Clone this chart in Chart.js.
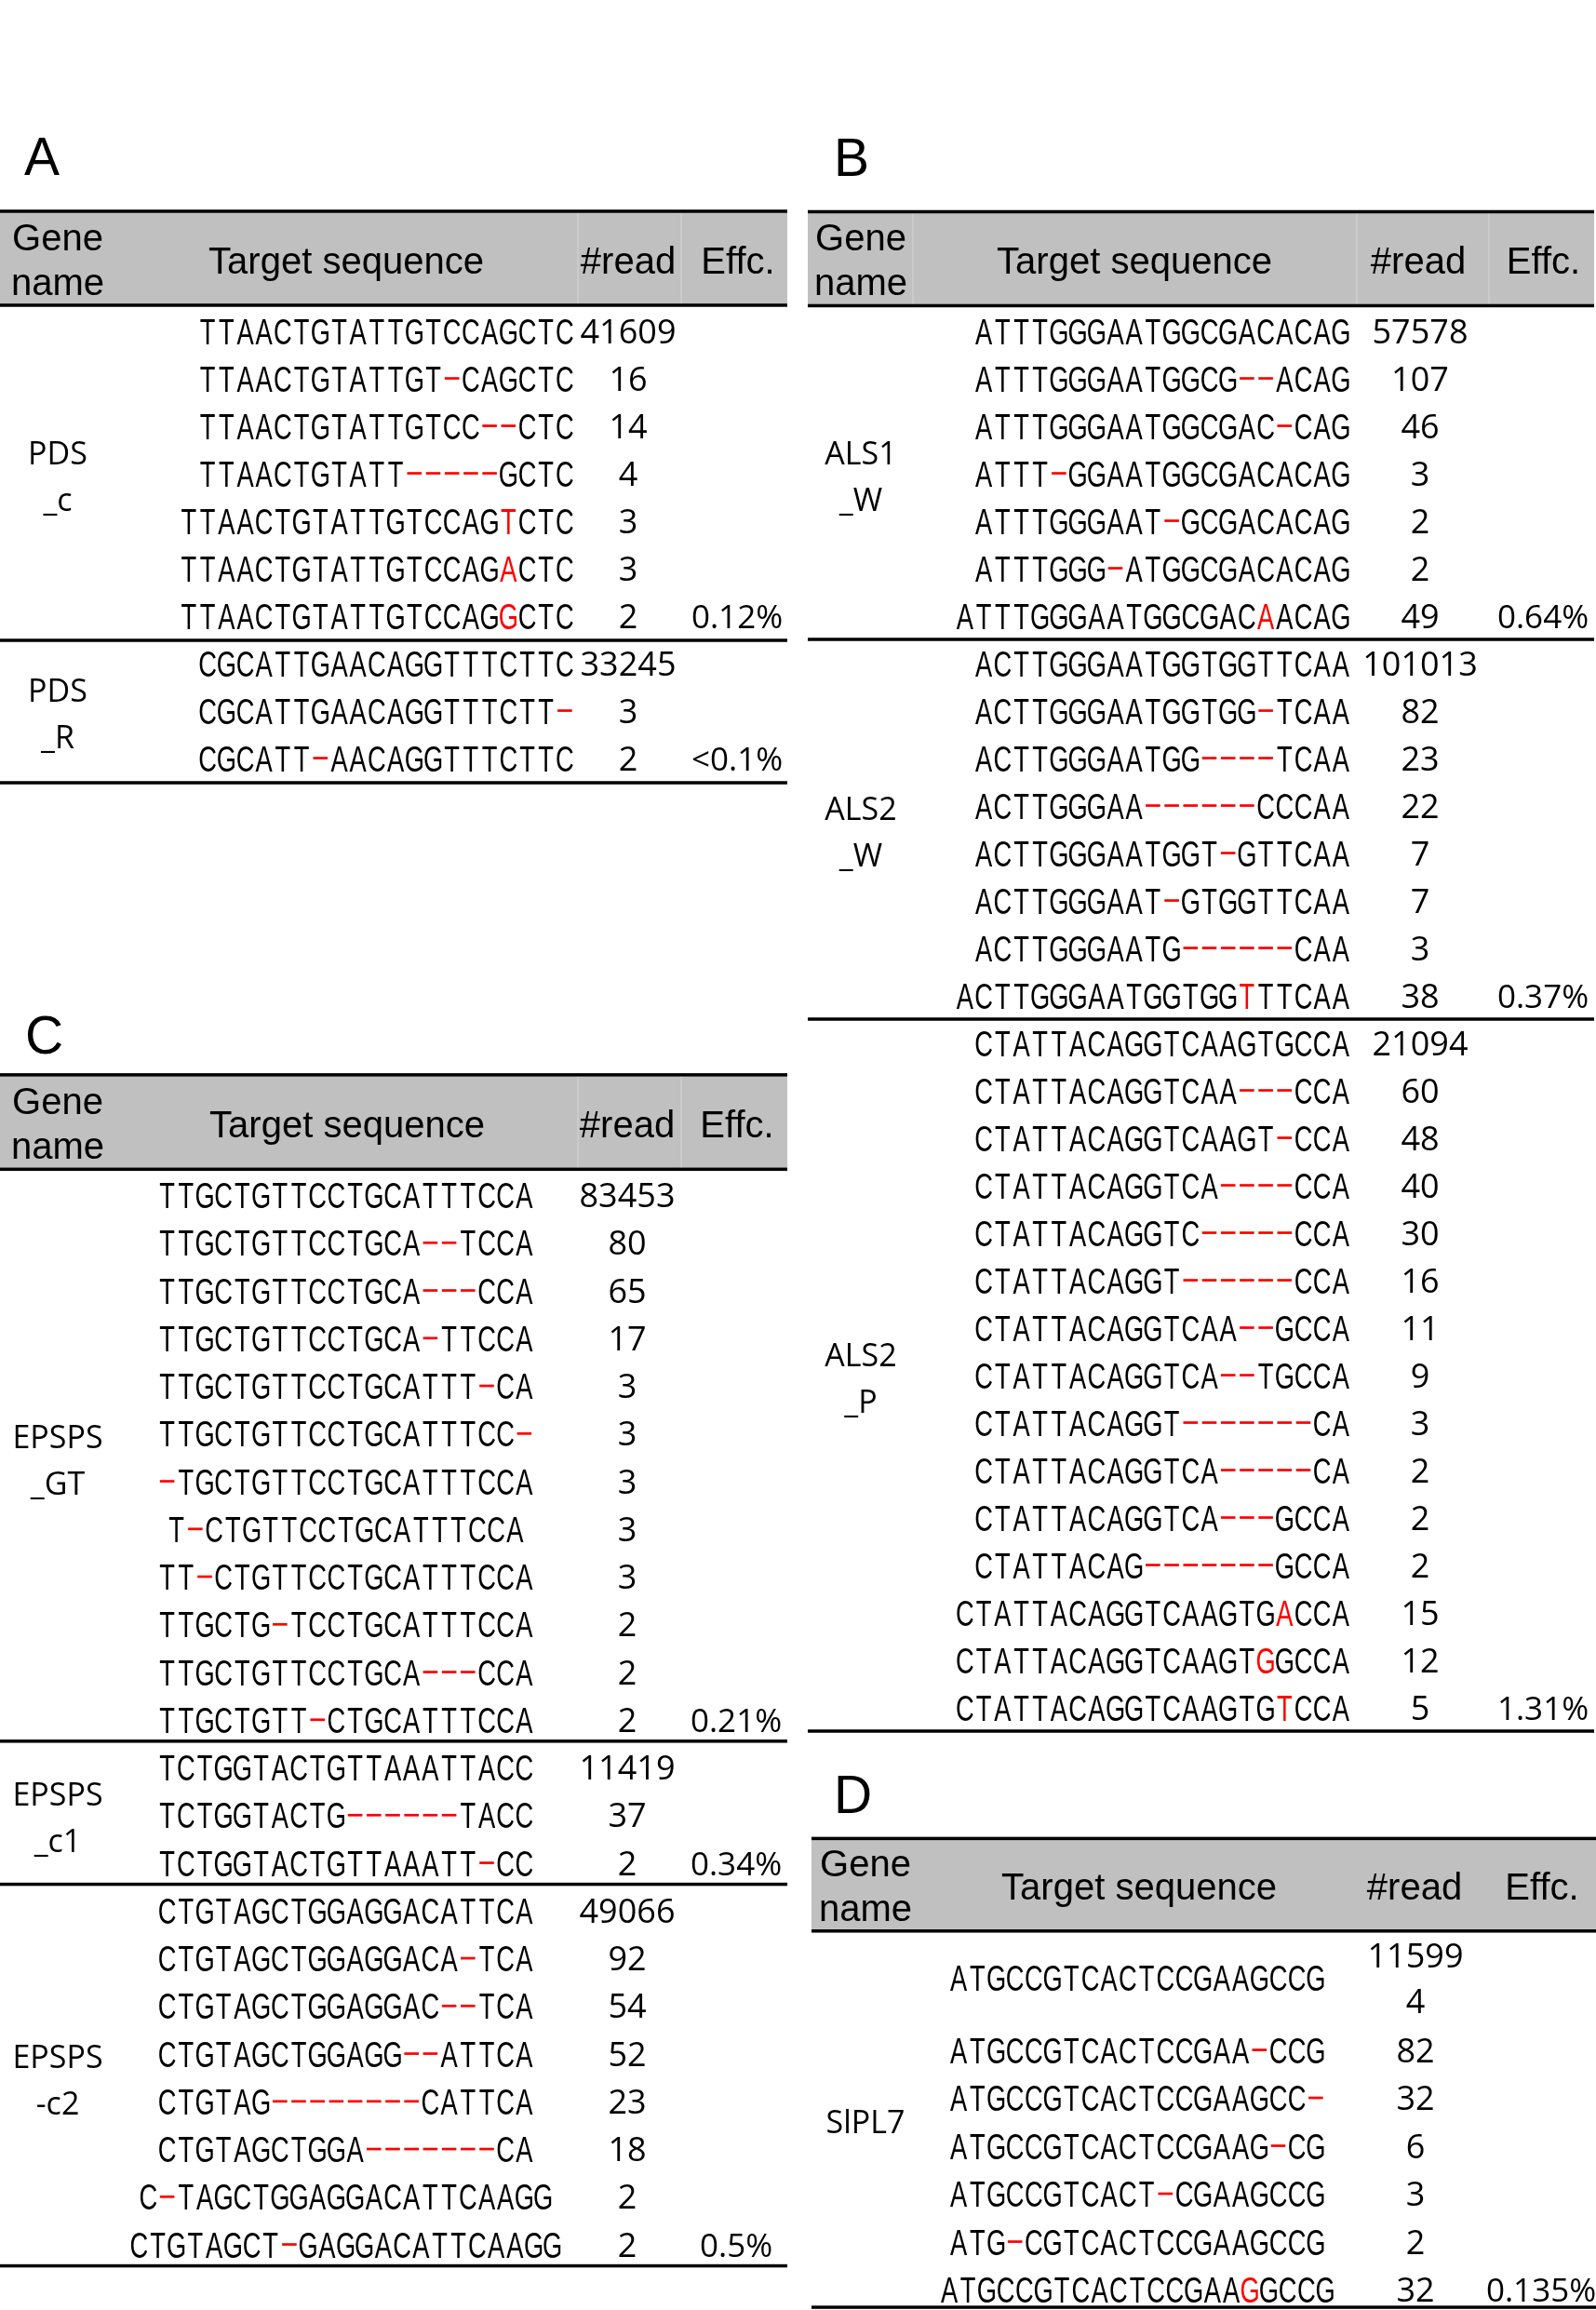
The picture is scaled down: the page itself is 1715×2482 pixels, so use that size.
<!DOCTYPE html>
<html>
<head>
<meta charset="utf-8">
<script src="https://cdn.jsdelivr.net/npm/chart.js@4.4.1/dist/chart.umd.min.js"></script>
<style>
  html, body { margin: 0; padding: 0; background: #fff; }
  #page { position: relative; width: 1715px; height: 2482px; overflow: hidden; background: #fff; }
  .panel { position: absolute; }
</style>
</head>
<body>
<div id="page">
  <div class="panel" id="boxA"><canvas id="panelA"></canvas></div>
  <div class="panel" id="boxB"><canvas id="panelB"></canvas></div>
  <div class="panel" id="boxC"><canvas id="panelC"></canvas></div>
  <div class="panel" id="boxD"><canvas id="panelD"></canvas></div>
</div>
<script>
// Header of every table
const headerLabels = ['Gene\nname', 'Target sequence', '#read', 'Effc.'];

// Sequences: '-' = deleted base (red), lowercase = substituted base (red)

// Panel A
const aGenes = ['PDS\n_c', 'PDS\n_R'];
const aGroupSizes = [7, 3];
const aSequences = [
    'TTAACTGTATTGTCCAGCTC',
    'TTAACTGTATTGT-CAGCTC',
    'TTAACTGTATTGTCC--CTC',
    'TTAACTGTATT-----GCTC',
    'TTAACTGTATTGTCCAGtCTC',
    'TTAACTGTATTGTCCAGaCTC',
    'TTAACTGTATTGTCCAGgCTC',
    'CGCATTGAACAGGTTTCTTC',
    'CGCATTGAACAGGTTTCTT-',
    'CGCATT-AACAGGTTTCTTC'
];
const aReads = [41609, 16, 14, 4, 3, 3, 2, 33245, 3, 2];
const aEffc = ['0.12%', '<0.1%'];

// Panel B
const bGenes = ['ALS1\n_W', 'ALS2\n_W', 'ALS2\n_P'];
const bGroupSizes = [7, 8, 15];
const bSequences = [
    'ATTTGGGAATGGCGACACAG',
    'ATTTGGGAATGGCG--ACAG',
    'ATTTGGGAATGGCGAC-CAG',
    'ATTT-GGAATGGCGACACAG',
    'ATTTGGGAAT-GCGACACAG',
    'ATTTGGG-ATGGCGACACAG',
    'ATTTGGGAATGGCGACaACAG',
    'ACTTGGGAATGGTGGTTCAA',
    'ACTTGGGAATGGTGG-TCAA',
    'ACTTGGGAATGG----TCAA',
    'ACTTGGGAA------CCCAA',
    'ACTTGGGAATGGT-GTTCAA',
    'ACTTGGGAAT-GTGGTTCAA',
    'ACTTGGGAATG------CAA',
    'ACTTGGGAATGGTGGtTTCAA',
    'CTATTACAGGTCAAGTGCCA',
    'CTATTACAGGTCAA---CCA',
    'CTATTACAGGTCAAGT-CCA',
    'CTATTACAGGTCA----CCA',
    'CTATTACAGGTC-----CCA',
    'CTATTACAGGT------CCA',
    'CTATTACAGGTCAA--GCCA',
    'CTATTACAGGTCA--TGCCA',
    'CTATTACAGGT-------CA',
    'CTATTACAGGTCA-----CA',
    'CTATTACAGGTCA---GCCA',
    'CTATTACAG-------GCCA',
    'CTATTACAGGTCAAGTGaCCA',
    'CTATTACAGGTCAAGTgGCCA',
    'CTATTACAGGTCAAGTGtCCA'
];
const bReads = [57578, 107, 46, 3, 2, 2, 49,
    101013, 82, 23, 22, 7, 7, 3, 38,
    21094, 60, 48, 40, 30, 16, 11, 9, 3, 2, 2, 2, 15, 12, 5];
const bEffc = ['0.64%', '0.37%', '1.31%'];

// Panel C
const cGenes = ['EPSPS\n_GT', 'EPSPS\n_c1', 'EPSPS\n-c2'];
const cGroupSizes = [12, 3, 8];
const cSequences = [
    'TTGCTGTTCCTGCATTTCCA',
    'TTGCTGTTCCTGCA--TCCA',
    'TTGCTGTTCCTGCA---CCA',
    'TTGCTGTTCCTGCA-TTCCA',
    'TTGCTGTTCCTGCATTT-CA',
    'TTGCTGTTCCTGCATTTCC-',
    '-TGCTGTTCCTGCATTTCCA',
    'T-CTGTTCCTGCATTTCCA',
    'TT-CTGTTCCTGCATTTCCA',
    'TTGCTG-TCCTGCATTTCCA',
    'TTGCTGTTCCTGCA---CCA',
    'TTGCTGTT-CTGCATTTCCA',
    'TCTGGTACTGTTAAATTACC',
    'TCTGGTACTG------TACC',
    'TCTGGTACTGTTAAATT-CC',
    'CTGTAGCTGGAGGACATTCA',
    'CTGTAGCTGGAGGACA-TCA',
    'CTGTAGCTGGAGGAC--TCA',
    'CTGTAGCTGGAGG--ATTCA',
    'CTGTAG--------CATTCA',
    'CTGTAGCTGGA-------CA',
    'C-TAGCTGGAGGACATTCAAGG',
    'CTGTAGCT-GAGGACATTCAAGG'
];
const cReads = [83453, 80, 65, 17, 3, 3, 3, 3, 3, 2, 2, 2,
    11419, 37, 2,
    49066, 92, 54, 52, 23, 18, 2, 2];
const cEffc = ['0.21%', '0.34%', '0.5%'];

// Panel D
const dGenes = ['SlPL7'];
const dGroupSizes = [7];
const dSequences = [
    'ATGCCGTCACTCCGAAGCCG',
    'ATGCCGTCACTCCGAA-CCG',
    'ATGCCGTCACTCCGAAGCC-',
    'ATGCCGTCACTCCGAAG-CG',
    'ATGCCGTCACT-CGAAGCCG',
    'ATG-CGTCACTCCGAAGCCG',
    'ATGCCGTCACTCCGAAgGCCG'
];
const dReads = [115994, 82, 32, 6, 3, 2, 32];
const dEffc = ['0.135%'];
const dRowSpans = [2, 1, 1, 1, 1, 1, 1];

// Layout of each panel (page pixels, row units on y)
const panels = [
    { id: 'A', genes: aGenes, sizes: aGroupSizes, seqs: aSequences, reads: aReads, effc: aEffc,
      left: 0, top: 0, width: 860, height: 900, row0: 355.5, rowH: 51,
      letterX: 26, letterY: -3.28, headTop: -2.52, headBottom: -0.54, lineX0: 0, lineX1: 846,
      headX: [62, 372, 675, 793], faint: [621, 732],
      geneX: 62, seqAlign: 'right', seqX: 617, readX: 675, readMaxW: 200, effcX: 792, sepOffset: 0.52 },
    { id: 'B', genes: bGenes, sizes: bGroupSizes, seqs: bSequences, reads: bReads, effc: bEffc,
      left: 860, top: 0, width: 855, height: 1900, row0: 355.5, rowH: 51,
      letterX: 36, letterY: -3.27, headTop: -2.51, headBottom: -0.53, lineX0: 8, lineX1: 853,
      headX: [65, 359, 664, 798.5], faint: [121, 598, 740],
      geneX: 65, seqAlign: 'right', seqX: 591, readX: 666, readMaxW: 200, effcX: 798, sepOffset: 0.5 },
    { id: 'C', genes: cGenes, sizes: cGroupSizes, seqs: cSequences, reads: cReads, effc: cEffc,
      left: 0, top: 900, width: 860, height: 1582, row0: 1284, rowH: 51.25,
      letterX: 27, letterY: -2.97, headTop: -2.52, headBottom: -0.54, lineX0: 0, lineX1: 846,
      headX: [62, 373, 674, 792], faint: [621, 732],
      geneX: 62, seqAlign: 'center', seqX: 371.5, readX: 674, readMaxW: 200, effcX: 791, sepOffset: 0.45 },
    { id: 'D', genes: dGenes, sizes: dGroupSizes, seqs: dSequences, reads: dReads, effc: dEffc, spans: dRowSpans,
      left: 860, top: 1900, width: 855, height: 582, row0: 2099.5, rowH: 51.5,
      letterX: 36, letterY: -2.94, headTop: -2.41, headBottom: -0.48, lineX0: 12, lineX1: 855,
      headX: [70, 364, 660, 797], faint: [],
      geneX: 70, seqAlign: 'center', seqX: 362, readX: 661, readMaxW: 112, effcX: 796, sepOffset: 0.37 }
];

const SEQ_FONT = '39px "Liberation Sans", Arial, sans-serif';
const NUM_FONT = '36px "Open Sans", "Noto Sans", sans-serif';
const EFFC_FONT = '35px "Open Sans", "Noto Sans", sans-serif';
const HEAD_FONT = '40px "Liberation Sans", Arial, sans-serif';
const PITCH = 20.2;
const RED = '#ff0000';

function rowPositions(p) {
    const spans = p.spans || p.seqs.map(() => 1);
    const ys = [];
    let cum = 0;
    spans.forEach(s => { ys.push(cum + s / 2 - 0.5); cum += s; });
    return { ys, spans };
}

function hLine(ctx, x0, x1, y, w) {
    ctx.fillStyle = '#000';
    ctx.fillRect(x0, y - w / 2, x1 - x0, w);
}

function drawSequence(ctx, seq, anchor, align, cy) {
    const n = seq.length;
    const start = align === 'right' ? anchor - n * PITCH : anchor - n * PITCH / 2;
    ctx.font = SEQ_FONT;
    ctx.textAlign = 'center';
    ctx.textBaseline = 'alphabetic';
    for (let i = 0; i < n; i++) {
        const ch = seq[i];
        const cx = start + (i + 0.5) * PITCH;
        if (ch === '-') {
            ctx.fillStyle = RED;
            ctx.fillRect(cx - 7.8, cy - 1.3, 15.6, 2.7);
            continue;
        }
        const isSub = ch !== ch.toUpperCase();
        ctx.fillStyle = isSub ? RED : '#000';
        ctx.save();
        ctx.translate(cx, cy + 14.2);
        ctx.scale(0.7, 1);
        ctx.fillText(ch.toUpperCase(), 0, 0);
        ctx.restore();
    }
}

function wrapNumber(ctx, text, maxW) {
    const lines = [];
    let cur = '';
    for (const ch of text) {
        if (cur && ctx.measureText(cur + ch).width > maxW) { lines.push(cur); cur = ch; }
        else cur += ch;
    }
    if (cur) lines.push(cur);
    return lines;
}

function makeTablePlugin(p) {
    return {
        id: 'seqTable' + p.id,
        afterDraw(chart) {
            const ctx = chart.ctx;
            const X = v => chart.scales.x.getPixelForValue(v);
            const Y = v => chart.scales.y.getPixelForValue(v);
            const { ys, spans } = rowPositions(p);
            const x0 = X(p.lineX0), x1 = X(p.lineX1);
            ctx.save();

            // panel letter
            ctx.fillStyle = '#000';
            ctx.font = '57px "Liberation Sans", Arial, sans-serif';
            ctx.textAlign = 'left';
            ctx.textBaseline = 'alphabetic';
            ctx.fillText(p.id, X(p.letterX), Y(p.letterY));

            // header band
            const hTop = Y(p.headTop), hBot = Y(p.headBottom);
            ctx.fillStyle = '#c0c0c0';
            ctx.fillRect(x0, hTop, x1 - x0, hBot - hTop);
            ctx.fillStyle = '#cecece';
            p.faint.forEach(fx => ctx.fillRect(X(fx) - 0.75, hTop, 1.5, hBot - hTop));
            hLine(ctx, x0, x1, hTop, 3.5);
            hLine(ctx, x0, x1, hBot, 3.5);

            ctx.fillStyle = '#000';
            ctx.font = HEAD_FONT;
            ctx.textAlign = 'center';
            headerLabels.forEach((lab, i) => {
                const parts = lab.split('\n');
                if (parts.length === 2) {
                    ctx.fillText(parts[0], X(p.headX[i]), hBot - 59);
                    ctx.fillText(parts[1], X(p.headX[i]), hBot - 11);
                } else {
                    ctx.fillText(lab, X(p.headX[i]), hBot - 34);
                }
            });

            // rows
            const meta = chart.getDatasetMeta(0);
            p.seqs.forEach((seq, i) => {
                const cy = meta.data[i].y;
                drawSequence(ctx, seq, X(p.seqX), p.seqAlign, cy);
                ctx.font = NUM_FONT;
                ctx.fillStyle = '#000';
                ctx.textAlign = 'center';
                const lines = wrapNumber(ctx, String(p.reads[i]), p.readMaxW);
                lines.forEach((ln, k) => {
                    const ly = Y(ys[i] + (k - (lines.length - 1) / 2) * (spans[i] > 1 ? 0.96 : 0.7));
                    ctx.fillText(ln, meta.data[i].x, ly + 13);
                });
            });

            // groups: names, efficiency, separators
            let start = 0;
            p.sizes.forEach((size, g) => {
                const end = start + size - 1;
                const topEdge = ys[start] - spans[start] / 2;
                const botEdge = ys[end] + spans[end] / 2;
                const gc = Y((topEdge + botEdge) / 2);
                ctx.font = '34px "Open Sans", "Noto Sans", sans-serif';
                ctx.fillStyle = '#000';
                ctx.textAlign = 'center';
                const parts = p.genes[g].split('\n');
                if (parts.length === 2) {
                    ctx.fillText(parts[0], X(p.geneX), gc - 10);
                    ctx.fillText(parts[1], X(p.geneX), gc + 40);
                } else {
                    ctx.fillText(parts[0], X(p.geneX), gc + 12);
                }
                ctx.font = EFFC_FONT;
                ctx.fillText(p.effc[g], X(p.effcX), Y(ys[end]) + 13);
                hLine(ctx, x0, x1, Y(ys[end] + p.sepOffset), 3.5);
                start = end + 1;
            });
            ctx.restore();
        }
    };
}

panels.forEach(p => {
    const box = document.getElementById('box' + p.id);
    box.style.left = p.left + 'px';
    box.style.top = p.top + 'px';
    box.style.width = p.width + 'px';
    box.style.height = p.height + 'px';
    const { ys } = rowPositions(p);
    const yMin = (p.top - p.row0) / p.rowH;
    const yMax = (p.top + p.height - p.row0) / p.rowH;
    new Chart(document.getElementById('panel' + p.id), {
        type: 'scatter',
        data: {
            datasets: [{
                label: 'rows',
                data: ys.map(y => ({ x: p.readX, y: y })),
                pointRadius: 0,
                showLine: false
            }]
        },
        options: {
            responsive: true,
            maintainAspectRatio: false,
            animation: false,
            events: [],
            layout: { padding: 0 },
            scales: {
                x: { type: 'linear', min: 0, max: p.width, display: false },
                y: { type: 'linear', min: yMin, max: yMax, reverse: true, display: false }
            },
            plugins: { legend: { display: false }, tooltip: { enabled: false } }
        },
        plugins: [makeTablePlugin(p)]
    });
});
</script>
</body>
</html>
